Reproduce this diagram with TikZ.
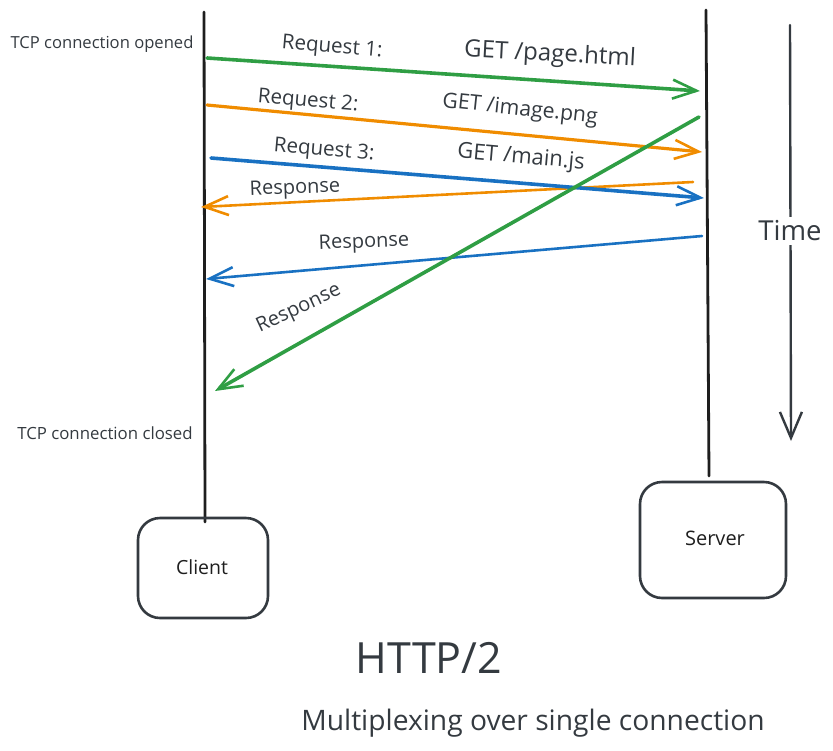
\documentclass[tikz,border=0pt]{standalone}
\usepackage{fontspec}
\setmainfont{Open Sans}
\usetikzlibrary{arrows.meta}
\definecolor{inkc}{HTML}{343A40}
\definecolor{blackc}{HTML}{1E1E1E}
\definecolor{greenc}{HTML}{2F9E44}
\definecolor{orangec}{HTML}{F08C00}
\definecolor{bluec}{HTML}{1971C2}
\tikzset{
  lbl/.style={text=inkc,inner sep=0pt,font=\fontsize{#1}{#1}\selectfont},
  lifeline/.style={draw=blackc,line width=2.8pt,line cap=round},
  boxn/.style={draw=inkc,line width=2.6pt,rounded corners=22pt,inner sep=0pt},
  msg/.style={line cap=round,-{Straight Barb[length=24pt,width=19pt,line width=2.6pt]}}
}
\begin{document}
\begin{tikzpicture}[x=1pt,y=-1pt]
\useasboundingbox (0,0) rectangle (833,750);
% lifelines
\coordinate (ct) at (204,12);
\coordinate (cb) at (205,522);
\coordinate (st) at (706,10);
\coordinate (sb) at (709,476);
\draw[lifeline] (ct) -- (cb);
\draw[lifeline] (st) -- (sb);
% boxes
\node[boxn,minimum width=130pt,minimum height=100pt] (client) at (203,568) {};
\node[lbl=19.5,text=blackc] (clientt) at (202,567) {Client};
\node[boxn,minimum width=146pt,minimum height=116pt] (server) at (713,540) {};
\node[lbl=20,text=blackc] (servert) at (715,538) {Server};
% time
\coordinate (tt) at (790,25);
\coordinate (tb) at (791,441);
\draw[draw=inkc,line width=2.4pt,line cap=round,-{Straight Barb[length=26pt,width=22pt,line width=2.4pt]}] (tt) -- (tb);
\node[lbl=27.5,fill=white,inner ysep=4pt,inner xsep=1pt] (time) at (790,231) {Time};
% endpoints
\coordinate (g1a) at (207,58);  \coordinate (g1b) at (700,91);
\coordinate (o1a) at (207,105); \coordinate (o1b) at (702,152);
\coordinate (b1a) at (211,158); \coordinate (b1b) at (704,198);
\coordinate (o2a) at (693,182); \coordinate (o2b) at (201,207);
\coordinate (b2a) at (702,236); \coordinate (b2b) at (206,279);
\coordinate (g2a) at (699,117); \coordinate (g2b) at (215,391);
% messages
\draw[msg,draw=orangec,line width=2.6pt] (o2a) -- (o2b);
\draw[msg,draw=bluec,line width=2.6pt] (b2a) -- (b2b);
\draw[msg,draw=greenc,line width=3.6pt] (g1a) -- (g1b);
\draw[msg,draw=orangec,line width=3.2pt] (o1a) -- (o1b);
\draw[msg,draw=bluec,line width=3.6pt] (b1a) -- (b1b);
\draw[msg,draw=greenc,line width=3.6pt] (g2a) -- (g2b);
% labels
\node[lbl=16.6] (open) at (102,44) {TCP connection opened};
\node[lbl=16.8] (closed) at (105,433) {TCP connection closed};
\node[lbl=20.6,rotate=-5] (r1) at (332,48) {Request 1:};
\node[lbl=20.6,rotate=-5] (r2) at (308,102) {Request 2:};
\node[lbl=20.6,rotate=-5] (r3) at (324,151) {Request 3:};
\node[lbl=24,rotate=-3] (g1) at (550,55) {GET /page.html};
\node[lbl=21.2,rotate=-6] (g2) at (520,110) {GET /image.png};
\node[lbl=22,rotate=-5] (g3) at (521,158) {GET /main.js};
\node[lbl=20,rotate=2] (rs1) at (295,189) {Response};
\node[lbl=20,rotate=2] (rs2) at (364,243) {Response};
\node[lbl=20,rotate=25] (rs3) at (299,309) {Response};
\node[lbl=43] (title) at (429,658) {HTTP/2};
\node[lbl=28.2] (sub) at (533,723) {Multiplexing over single connection};
\end{tikzpicture}
\end{document}
